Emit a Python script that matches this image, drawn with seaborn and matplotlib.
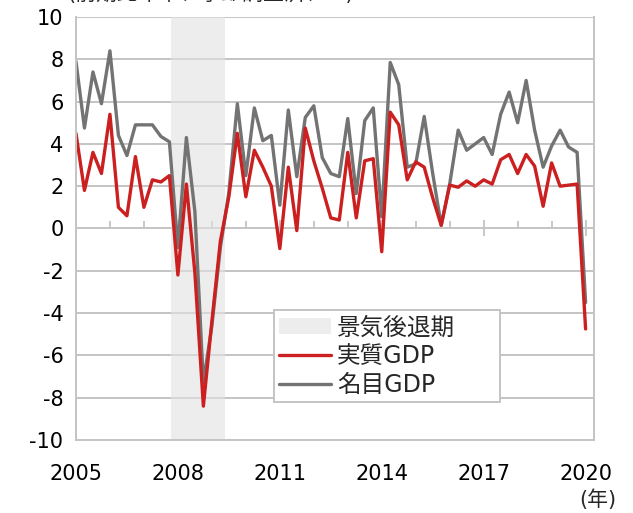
# 米国GDP成長率（前期比年率）の推移
import numpy as np
import pandas as pd
import matplotlib
matplotlib.use("Agg")
import matplotlib.pyplot as plt
import seaborn as sns
from matplotlib.ticker import MultipleLocator

# 四半期（2005Q1〜2020Q1）
quarters = [y + q / 4 for y in range(2005, 2021) for q in range(4)][:61]

nominal_gdp = [7.9, 4.75, 7.4, 5.9, 8.4, 4.4, 3.45, 4.9, 4.9, 4.9, 4.35, 4.1,
               -0.9, 4.3, 0.8, -7.3, -4.6, -0.9, 1.7, 5.9, 2.5, 5.7, 4.15, 4.4,
               1.1, 5.6, 2.45, 5.25, 5.8, 3.35, 2.6, 2.45, 5.2, 1.65, 5.1, 5.7,
               0.55, 7.85, 6.8, 2.9, 3.05, 5.3, 2.6, 0.15, 2.1, 4.65, 3.7, 4.0,
               4.3, 3.5, 5.4, 6.45, 5.0, 7.0, 4.65, 2.9, 3.9, 4.65, 3.85, 3.6,
               -3.5]
real_gdp = [4.5, 1.8, 3.6, 2.6, 5.4, 1.0, 0.6, 3.4, 1.0, 2.3, 2.2, 2.5,
            -2.2, 2.1, -2.1, -8.4, -4.4, -0.6, 1.5, 4.5, 1.5, 3.7, 2.9, 2.0,
            -0.95, 2.9, -0.1, 4.75, 3.2, 1.9, 0.5, 0.4, 3.6, 0.5, 3.2, 3.3,
            -1.1, 5.5, 4.9, 2.3, 3.15, 2.9, 1.45, 0.15, 2.05, 1.95, 2.25, 2.0,
            2.3, 2.1, 3.25, 3.5, 2.6, 3.5, 2.95, 1.05, 3.1, 2.0, 2.05, 2.1,
            -4.75]

# 景気後退期（月次）
recession_months = ([2007 + m / 12 for m in range(10, 12)]
                    + [2008 + m / 12 for m in range(12)]
                    + [2009 + m / 12 for m in range(5)])

year_ticks = [2005, 2008, 2011, 2014, 2017, 2020]
y_ticks = list(range(-10, 11, 2))

df = pd.DataFrame({
    "年": quarters * 2,
    "成長率": nominal_gdp + real_gdp,
    "系列": ["名目GDP"] * len(quarters) + ["実質GDP"] * len(quarters),
})

sns.set_theme(style="white")
plt.rcParams["font.family"] = ["DejaVu Sans", "Noto Sans CJK JP"]
plt.rcParams["axes.unicode_minus"] = False

grid_c = "#c4c4c4"
fig = plt.figure(figsize=(6.33, 5.13), dpi=100)
ax = fig.add_axes([0.120, 0.1423, 0.818, 0.8246])

bars = ax.bar(recession_months, 20, bottom=-10, width=1 / 12,
              color="#e2e2e2", alpha=0.6, linewidth=0, zorder=1, label="景気後退期")

sns.lineplot(data=df, x="年", y="成長率", hue="系列", hue_order=["名目GDP", "実質GDP"],
             palette={"名目GDP": "#737373", "実質GDP": "#cc2020"},
             linewidth=2.4, legend=False, ax=ax, zorder=2)

ax.set_xlim(2005, 2020.24)
ax.set_ylim(-10, 10)
ax.set_yticks(y_ticks)
ax.set_xticks(year_ticks)
ax.set_xlabel("")
ax.set_ylabel("")
ax.grid(axis="y", color=grid_c, linewidth=1.4)
ax.grid(axis="x", visible=False)
ax.set_axisbelow(True)
ax.tick_params(axis="both", length=0, labelsize=15, colors="black")
ax.tick_params(axis="x", pad=17)
ax.tick_params(axis="y", pad=9)
ax.spines["top"].set_visible(False)
for s in ["left", "right", "bottom"]:
    ax.spines[s].set_color(grid_c)
    ax.spines[s].set_linewidth(1.4)

# y=0 上の目盛り
sec = ax.secondary_xaxis(0.5)
sec.set_alignment("bottom")
sec.spines["bottom"].set_visible(False)
sec.set_xticks(year_ticks)
sec.set_xticklabels([])
sec.xaxis.set_minor_locator(MultipleLocator(1))
sec.tick_params(which="major", direction="inout", length=11, width=1.3, color=grid_c)
sec.tick_params(which="minor", direction="in", length=5, width=1.3, color=grid_c)

line_nom, line_real = ax.lines[0], ax.lines[1]
leg = ax.legend([bars, line_real, line_nom], ["景気後退期", "実質GDP", "名目GDP"],
                loc="upper left", bbox_to_anchor=(0.382, 0.0, 0.436, 0.307),
                mode="expand", alignment="center", borderaxespad=0,
                fontsize=17, frameon=True, fancybox=False, framealpha=1,
                edgecolor=grid_c, handlelength=2.2, handletextpad=0.25,
                labelspacing=0.2, borderpad=0.22)
leg.get_frame().set_linewidth(1.4)

fig.text(0.107, 1.0, "(前期比年率、季節調整済、%)", fontsize=15, va="baseline", ha="left")
fig.text(0.944, 0.025, "(年)", fontsize=15, ha="center", va="center")

fig.savefig("out.png", dpi=100)
